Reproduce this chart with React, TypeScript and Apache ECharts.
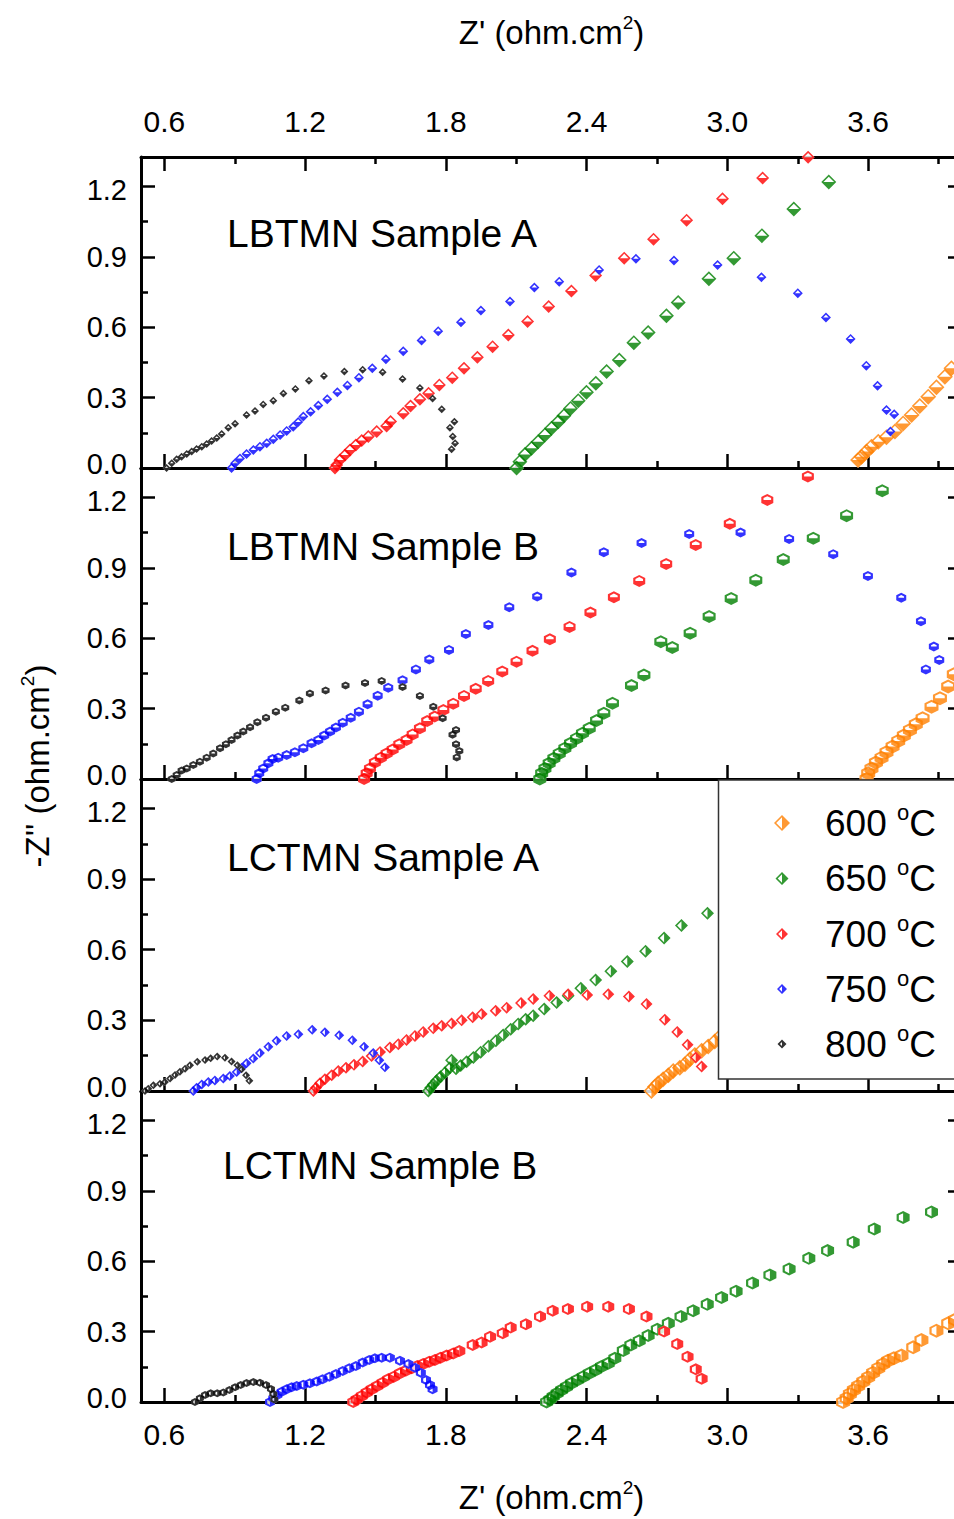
import React, { useEffect, useRef } from 'react';
import * as echarts from 'echarts';

type Pt = [number, number];

// ---------- labels / ticks ----------
const temperatureNames = ['600 °C', '650 °C', '700 °C', '750 °C', '800 °C'];
const temperatureColors = ['#FF8000', '#008000', '#FF0000', '#0000FF', '#000000'];
const panelTitles = ['LBTMN Sample A', 'LBTMN Sample B', 'LCTMN Sample A', 'LCTMN Sample B'];
const xMajorTicks = [0.6, 1.2, 1.8, 2.4, 3.0, 3.6];
const xMinorTicks = [0.9, 1.5, 2.1, 2.7, 3.3, 3.9];
const yMajorTicks = [0, 0.3, 0.6, 0.9, 1.2];
const yMinorTicks = [0.15, 0.45, 0.75, 1.05];

// ---------- LBTMN Sample A ----------
const lbtmnA600: Pt[] = [[3.557,0.034],[3.572,0.048],[3.593,0.070],[3.614,0.091],[3.643,0.112],[3.678,0.131],[3.714,0.155],[3.749,0.190],[3.785,0.226],[3.820,0.264],[3.856,0.304],[3.891,0.344],[3.927,0.389],[3.955,0.425]];
const lbtmnA650: Pt[] = [[2.101,0],[2.115,0.027],[2.137,0.057],[2.165,0.084],[2.193,0.112],[2.222,0.141],[2.250,0.169],[2.279,0.197],[2.303,0.223],[2.331,0.254],[2.364,0.287],[2.399,0.323],[2.439,0.361],[2.485,0.411],[2.539,0.460],[2.601,0.534],[2.662,0.577],[2.740,0.649],[2.790,0.705],[2.921,0.806],[3.027,0.894],[3.147,0.990],[3.283,1.103],[3.432,1.218],[3.600,1.330]];
const lbtmnA700: Pt[] = [[1.327,0],[1.334,0.013],[1.348,0.034],[1.370,0.055],[1.391,0.077],[1.416,0.098],[1.441,0.117],[1.469,0.134],[1.505,0.155],[1.547,0.179],[1.564,0.198],[1.618,0.233],[1.649,0.264],[1.689,0.293],[1.726,0.318],[1.772,0.354],[1.827,0.385],[1.877,0.425],[1.934,0.472],[1.999,0.517],[2.066,0.567],[2.148,0.624],[2.238,0.688],[2.335,0.754],[2.438,0.820],[2.560,0.894],[2.685,0.975],[2.826,1.056],[2.979,1.147],[3.150,1.235],[3.344,1.324]];
const lbtmnA750: Pt[] = [[0.886,0],[0.901,0.020],[0.922,0.041],[0.950,0.060],[0.979,0.077],[1.007,0.091],[1.036,0.105],[1.064,0.122],[1.093,0.141],[1.121,0.158],[1.149,0.176],[1.170,0.196],[1.192,0.219],[1.223,0.240],[1.256,0.266],[1.294,0.293],[1.337,0.323],[1.380,0.352],[1.429,0.385],[1.486,0.425],[1.544,0.463],[1.618,0.497],[1.696,0.543],[1.767,0.583],[1.864,0.621],[1.949,0.671],[2.073,0.709],[2.177,0.769],[2.283,0.794],[2.453,0.844],[2.610,0.891],[2.772,0.884],[2.958,0.865],[3.145,0.813],[3.300,0.745],[3.420,0.641],[3.525,0.550],[3.592,0.436],[3.640,0.350],[3.678,0.247],[3.711,0.229],[3.695,0.155]];
const lbtmnA800: Pt[] = [[0.609,0],[0.631,0.020],[0.652,0.037],[0.673,0.048],[0.695,0.060],[0.716,0.070],[0.737,0.081],[0.759,0.091],[0.780,0.102],[0.801,0.115],[0.823,0.128],[0.844,0.145],[0.872,0.172],[0.901,0.188],[0.950,0.226],[0.986,0.243],[1.021,0.271],[1.064,0.287],[1.107,0.317],[1.158,0.337],[1.216,0.372],[1.280,0.392],[1.367,0.411],[1.445,0.419],[1.530,0.408],[1.615,0.379],[1.689,0.341],[1.743,0.296],[1.782,0.250],[1.836,0.197],[1.817,0.172],[1.829,0.134],[1.839,0.105],[1.824,0.080]];

// ---------- LBTMN Sample B ----------
const lbtmnB600: Pt[] = [[3.593,0],[3.600,0.024],[3.614,0.045],[3.633,0.070],[3.657,0.091],[3.678,0.114],[3.704,0.138],[3.728,0.162],[3.752,0.185],[3.778,0.209],[3.803,0.233],[3.832,0.259],[3.870,0.308],[3.906,0.344],[3.941,0.394],[3.965,0.446]];
const lbtmnB650: Pt[] = [[2.200,0],[2.208,0.024],[2.222,0.045],[2.240,0.067],[2.260,0.088],[2.283,0.109],[2.307,0.131],[2.331,0.152],[2.357,0.173],[2.382,0.195],[2.411,0.216],[2.442,0.249],[2.473,0.280],[2.510,0.323],[2.591,0.398],[2.644,0.443],[2.716,0.585],[2.765,0.560],[2.841,0.621],[2.922,0.692],[3.016,0.769],[3.121,0.847],[3.238,0.935],[3.366,1.026],[3.508,1.122],[3.660,1.228]];
const lbtmnB700: Pt[] = [[1.451,0],[1.462,0.024],[1.476,0.045],[1.497,0.070],[1.522,0.091],[1.547,0.109],[1.573,0.126],[1.601,0.148],[1.632,0.166],[1.658,0.190],[1.689,0.216],[1.720,0.247],[1.752,0.266],[1.789,0.294],[1.831,0.321],[1.877,0.354],[1.927,0.384],[1.980,0.418],[2.040,0.458],[2.101,0.500],[2.169,0.546],[2.243,0.595],[2.327,0.648],[2.416,0.709],[2.516,0.774],[2.624,0.844],[2.739,0.916],[2.865,0.997],[3.010,1.087],[3.170,1.189],[3.343,1.289]];
const lbtmnB750: Pt[] = [[0.993,0],[1.004,0.024],[1.021,0.045],[1.043,0.067],[1.061,0.085],[1.085,0.091],[1.121,0.102],[1.156,0.114],[1.192,0.131],[1.227,0.152],[1.256,0.166],[1.281,0.185],[1.306,0.202],[1.331,0.219],[1.360,0.240],[1.394,0.261],[1.429,0.287],[1.466,0.318],[1.509,0.355],[1.554,0.389],[1.615,0.421],[1.672,0.467],[1.729,0.509],[1.813,0.550],[1.885,0.618],[1.981,0.656],[2.070,0.732],[2.189,0.777],[2.335,0.880],[2.473,0.966],[2.634,1.005],[2.837,1.044],[3.056,1.050],[3.263,1.023],[3.451,0.958],[3.599,0.865],[3.741,0.772],[3.825,0.672],[3.880,0.564],[3.903,0.507],[3.846,0.467]];
const lbtmnB800: Pt[] = [[0.631,0],[0.652,0.017],[0.673,0.036],[0.695,0.045],[0.723,0.060],[0.751,0.074],[0.780,0.091],[0.808,0.109],[0.837,0.131],[0.862,0.148],[0.886,0.166],[0.911,0.185],[0.936,0.202],[0.965,0.220],[0.996,0.242],[1.033,0.261],[1.075,0.287],[1.115,0.304],[1.175,0.334],[1.220,0.364],[1.287,0.377],[1.372,0.398],[1.455,0.409],[1.526,0.418],[1.615,0.392],[1.689,0.354],[1.746,0.308],[1.786,0.259],[1.843,0.209],[1.828,0.188],[1.843,0.148],[1.857,0.119],[1.846,0.092]];

// ---------- LCTMN Sample A ----------
const lctmnA600: Pt[] = [[2.676,0],[2.691,0.018],[2.705,0.033],[2.726,0.050],[2.748,0.067],[2.769,0.085],[2.797,0.099],[2.819,0.114],[2.840,0.135],[2.861,0.153],[2.890,0.171],[2.918,0.189],[2.946,0.210],[2.971,0.234]];
const lctmnA650: Pt[] = [[1.725,0],[1.735,0.014],[1.746,0.028],[1.760,0.043],[1.777,0.060],[1.796,0.078],[1.817,0.099],[1.824,0.131],[1.843,0.095],[1.863,0.108],[1.888,0.124],[1.917,0.142],[1.948,0.165],[1.981,0.190],[2.013,0.213],[2.044,0.238],[2.076,0.262],[2.108,0.285],[2.140,0.305],[2.172,0.320],[2.219,0.348],[2.272,0.376],[2.321,0.404],[2.375,0.436],[2.438,0.471],[2.503,0.509],[2.573,0.550],[2.651,0.594],[2.730,0.650],[2.804,0.703],[2.915,0.755]];
const lctmnA700: Pt[] = [[1.235,0],[1.246,0.014],[1.263,0.033],[1.284,0.050],[1.313,0.067],[1.341,0.085],[1.374,0.099],[1.408,0.111],[1.445,0.125],[1.483,0.149],[1.519,0.166],[1.561,0.185],[1.597,0.199],[1.632,0.217],[1.668,0.234],[1.703,0.251],[1.746,0.266],[1.782,0.277],[1.824,0.287],[1.867,0.300],[1.914,0.313],[1.952,0.327],[2.012,0.341],[2.059,0.354],[2.120,0.374],[2.172,0.391],[2.241,0.405],[2.321,0.411],[2.402,0.408],[2.492,0.411],[2.580,0.401],[2.655,0.369],[2.733,0.303],[2.786,0.251],[2.830,0.196],[2.865,0.142],[2.890,0.104]];
const lctmnA750: Pt[] = [[0.723,0],[0.737,0.014],[0.759,0.028],[0.787,0.038],[0.815,0.045],[0.851,0.053],[0.879,0.064],[0.908,0.081],[0.929,0.099],[0.950,0.118],[0.979,0.138],[1.007,0.161],[1.043,0.188],[1.078,0.213],[1.121,0.234],[1.171,0.241],[1.230,0.260],[1.284,0.249],[1.345,0.237],[1.401,0.216],[1.451,0.188],[1.490,0.161],[1.516,0.131],[1.540,0.101]];
const lctmnA800: Pt[] = [[0.517,0],[0.531,0.010],[0.553,0.024],[0.581,0.031],[0.602,0.038],[0.624,0.053],[0.645,0.068],[0.666,0.082],[0.688,0.095],[0.709,0.109],[0.740,0.124],[0.773,0.132],[0.797,0.139],[0.825,0.146],[0.858,0.141],[0.886,0.125],[0.911,0.109],[0.929,0.092],[0.948,0.067],[0.962,0.043]];

// ---------- LCTMN Sample B ----------
const lctmnB600: Pt[] = [[3.493,0],[3.508,0.016],[3.522,0.034],[3.539,0.051],[3.557,0.068],[3.579,0.087],[3.600,0.105],[3.621,0.125],[3.643,0.144],[3.664,0.162],[3.685,0.176],[3.709,0.186],[3.742,0.198],[3.792,0.233],[3.827,0.264],[3.891,0.304],[3.941,0.335],[3.970,0.350]];
const lctmnB650: Pt[] = [[2.229,0],[2.243,0.011],[2.257,0.023],[2.274,0.037],[2.293,0.051],[2.314,0.065],[2.335,0.080],[2.360,0.094],[2.385,0.108],[2.411,0.122],[2.438,0.136],[2.463,0.151],[2.492,0.165],[2.520,0.186],[2.556,0.219],[2.588,0.243],[2.624,0.261],[2.662,0.283],[2.701,0.310],[2.748,0.335],[2.802,0.364],[2.854,0.389],[2.914,0.416],[2.975,0.445],[3.037,0.472],[3.107,0.507],[3.181,0.541],[3.263,0.567],[3.347,0.612],[3.427,0.645],[3.536,0.681],[3.626,0.737],[3.749,0.786],[3.870,0.810]];
const lctmnB700: Pt[] = [[1.405,0],[1.419,0.011],[1.441,0.026],[1.462,0.040],[1.483,0.054],[1.507,0.068],[1.530,0.082],[1.554,0.097],[1.578,0.108],[1.604,0.122],[1.630,0.134],[1.654,0.144],[1.678,0.153],[1.703,0.162],[1.729,0.172],[1.753,0.179],[1.777,0.189],[1.803,0.198],[1.831,0.207],[1.857,0.217],[1.914,0.243],[1.952,0.254],[1.988,0.278],[2.042,0.293],[2.076,0.317],[2.141,0.331],[2.201,0.364],[2.255,0.389],[2.320,0.396],[2.402,0.406],[2.492,0.406],[2.580,0.396],[2.655,0.364],[2.730,0.300],[2.786,0.247],[2.830,0.193],[2.865,0.139],[2.890,0.099]];
const lctmnB750: Pt[] = [[1.050,0],[1.064,0.016],[1.081,0.030],[1.100,0.044],[1.121,0.054],[1.142,0.063],[1.164,0.068],[1.192,0.074],[1.220,0.080],[1.249,0.087],[1.274,0.097],[1.303,0.108],[1.331,0.119],[1.360,0.132],[1.388,0.144],[1.416,0.153],[1.445,0.168],[1.473,0.179],[1.497,0.186],[1.526,0.189],[1.561,0.189],[1.604,0.176],[1.640,0.162],[1.668,0.146],[1.693,0.125],[1.715,0.094],[1.732,0.072],[1.743,0.054]];
const lctmnB800: Pt[] = [[0.730,0],[0.751,0.016],[0.773,0.030],[0.797,0.037],[0.825,0.037],[0.851,0.041],[0.877,0.051],[0.901,0.063],[0.925,0.072],[0.950,0.081],[0.979,0.085],[1.007,0.082],[1.033,0.072],[1.054,0.055],[1.064,0.034],[1.068,0.011]];

const panelSeriesData: Pt[][][] = [
  [lbtmnA600, lbtmnA650, lbtmnA700, lbtmnA750, lbtmnA800],
  [lbtmnB600, lbtmnB650, lbtmnB700, lbtmnB750, lbtmnB800],
  [lctmnA600, lctmnA650, lctmnA700, lctmnA750, lctmnA800],
  [lctmnB600, lctmnB650, lctmnB700, lctmnB750, lctmnB800],
];

// ---------- styling / layout ----------
const FONT = "'Liberation Sans', Arial, Helvetica, sans-serif";
const GRID_LEFT = 141;
const GRID_WIDTH = 821;
const gridTops = [157, 468, 779, 1091];
const gridHeights = [311, 311, 312, 311];
const X_MIN = 0.5, X_MAX = 4.0, Y_MIN = 0, Y_MAX = 1.325;

const markerSizes = [
  [16, 15, 13, 10, 8],
  [14, 13, 12, 10, 8],
  [16, 13, 12, 10, 8],
  [14, 13, 12, 10, 8],
];
const legendSizes = [16, 13, 12, 10, 9];
const legendRowCenters = [823, 878.5, 934, 989, 1044];
const LEGEND_ICON_X = 782;
const LEGEND_TEXT_X = 825;

const DIAMOND: Pt[] = [[50, 0], [100, 50], [50, 100], [0, 50]];
const HEXAGON: Pt[] = [[50, 0], [100, 25], [100, 75], [50, 100], [0, 75], [0, 25]];
const DIAMOND_BOTTOM: Pt[] = [[0, 50], [100, 50], [50, 100]];
const DIAMOND_RIGHT: Pt[] = [[50, 0], [100, 50], [50, 100]];
const HEX_BOTTOM: Pt[] = [[0, 50], [100, 50], [100, 75], [50, 100], [0, 75]];
const HEX_RIGHT: Pt[] = [[50, 0], [100, 25], [100, 75], [50, 100]];

const panelShapes: { outer: Pt[]; half: Pt[] }[] = [
  { outer: DIAMOND, half: DIAMOND_BOTTOM },
  { outer: HEXAGON, half: HEX_BOTTOM },
  { outer: DIAMOND, half: DIAMOND_RIGHT },
  { outer: HEXAGON, half: HEX_RIGHT },
];

function poly(pts: Pt[]): string {
  return 'M' + pts.map((p) => p[0].toFixed(2) + ' ' + p[1].toFixed(2)).join('L') + 'Z';
}
function markerPath(outer: Pt[], half: Pt[], size: number): string {
  const t = (1.7 / size) * 100;
  const f = Math.max(0.3, 1 - (2.6 * t) / 100);
  const inner: Pt[] = outer.map(([x, y]) => [50 + (x - 50) * f, 50 + (y - 50) * f] as Pt).reverse();
  return 'path://' + poly(outer) + poly(inner) + poly(half);
}

const supRich = (fs: number, lh: number) => ({
  s: { fontSize: fs, fontFamily: FONT, color: '#000', verticalAlign: 'top', lineHeight: lh },
});

function makeX(gridIndex: number, position: 'top' | 'bottom', major: boolean, showTicks: boolean, showLabels: boolean, name: string, nameGap: number) {
  return {
    type: 'value',
    gridIndex,
    position,
    min: X_MIN,
    max: X_MAX,
    axisLine: { show: major, onZero: false, lineStyle: { color: '#000', width: 3 } },
    axisTick: {
      show: showTicks,
      inside: true,
      length: major ? 14 : 7,
      customValues: major ? xMajorTicks : xMinorTicks,
      lineStyle: { color: '#000', width: 2.5 },
    },
    axisLabel: {
      show: showLabels,
      customValues: xMajorTicks,
      formatter: (v: number) => v.toFixed(1),
      fontSize: 30,
      lineHeight: 26,
      fontFamily: FONT,
      color: '#000',
      margin: position === 'top' ? 23 : 19,
    },
    splitLine: { show: false },
    minorTick: { show: false },
    name,
    nameLocation: 'middle',
    nameGap,
    nameTextStyle: { fontSize: 33, fontFamily: FONT, color: '#000', lineHeight: 38, rich: supRich(19, 19) },
  };
}

function yLabelFormatter(v: number): string {
  const s = v.toFixed(1);
  if (v === 0) return `{lo|${s}}`;
  if (Math.abs(v - 1.2) < 1e-9) return `{hi|${s}}`;
  return s;
}

function makeY(gridIndex: number, position: 'left' | 'right', major: boolean, showLabels: boolean) {
  return {
    type: 'value',
    gridIndex,
    position,
    min: Y_MIN,
    max: Y_MAX,
    axisLine: { show: major, onZero: false, lineStyle: { color: '#000', width: 3 } },
    axisTick: {
      show: true,
      inside: true,
      length: major ? 14 : 7,
      customValues: major ? yMajorTicks : yMinorTicks,
      lineStyle: { color: '#000', width: 2.5 },
    },
    axisLabel: {
      show: showLabels,
      customValues: yMajorTicks,
      formatter: yLabelFormatter,
      fontSize: 29,
      lineHeight: 24,
      fontFamily: FONT,
      color: '#000',
      margin: 14,
      rich: {
        lo: { fontSize: 29, fontFamily: FONT, color: '#000', lineHeight: 24, padding: [0, 0, 8, 0] },
        hi: { fontSize: 29, fontFamily: FONT, color: '#000', lineHeight: 24, padding: [8, 0, 0, 0] },
      },
    },
    splitLine: { show: false },
  };
}

function buildOption() {
  const grid: any[] = [];
  for (let i = 0; i < 8; i++) {
    grid.push({
      left: GRID_LEFT,
      top: gridTops[i % 4],
      width: GRID_WIDTH,
      height: gridHeights[i % 4],
      containLabel: false,
      outerBoundsMode: 'none',
      show: false,
    });
  }
  const xTitle = "Z' (ohm.cm{s|2})";
  const xAxis: any[] = [];
  for (let g = 0; g < 4; g++) xAxis.push(makeX(g, 'bottom', true, true, g === 3, g === 3 ? xTitle : '', 76));
  for (let g = 0; g < 4; g++) xAxis.push(makeX(g, 'top', true, g === 0, g === 0, g === 0 ? xTitle : '', 106));
  for (let g = 0; g < 4; g++) xAxis.push(makeX(g + 4, 'bottom', false, true, false, '', 0));
  for (let g = 0; g < 4; g++) xAxis.push(makeX(g + 4, 'top', false, g === 0, false, '', 0));

  const yAxis: any[] = [];
  for (let g = 0; g < 4; g++) yAxis.push(makeY(g, 'left', true, true));
  for (let g = 0; g < 4; g++) yAxis.push(makeY(g, 'right', true, false));
  for (let g = 0; g < 4; g++) yAxis.push(makeY(g + 4, 'left', false, false));
  for (let g = 0; g < 4; g++) yAxis.push(makeY(g + 4, 'right', false, false));

  const series: any[] = [];
  panelSeriesData.forEach((panel, p) => {
    const shape = panelShapes[p];
    panel.forEach((pts, k) => {
      const size = markerSizes[p][k];
      series.push({
        type: 'scatter',
        name: `bg ${panelTitles[p]} ${k}`,
        xAxisIndex: p,
        yAxisIndex: p,
        data: pts,
        symbol: 'path://' + poly(shape.outer),
        symbolSize: size,
        itemStyle: { color: '#ffffff' },
        silent: true,
        emphasis: { disabled: true },
      });
      series.push({
        type: 'scatter',
        name: p === 2 ? temperatureNames[k] : `${panelTitles[p]} ${temperatureNames[k]}`,
        xAxisIndex: p,
        yAxisIndex: p,
        data: pts,
        symbol: markerPath(shape.outer, shape.half, size),
        symbolSize: size,
        itemStyle: { color: temperatureColors[k] },
        emphasis: { disabled: true },
      });
    });
  });

  const legend = temperatureNames.map((name, i) => {
    const sz = legendSizes[i];
    const spacer = LEGEND_TEXT_X - (LEGEND_ICON_X + sz / 2 + 5);
    return {
      data: [name],
      orient: 'horizontal',
      left: LEGEND_ICON_X - sz / 2,
      top: legendRowCenters[i] - 22,
      itemWidth: sz,
      itemHeight: sz,
      itemGap: 0,
      padding: 0,
      selectedMode: false,
      z: 120,
      formatter: (n: string) => `{p|}{n|${n.split(' ')[0]} }{s|o}{n|C}`,
      textStyle: {
        fontSize: 37,
        fontFamily: FONT,
        color: '#000',
        lineHeight: 44,
        rich: {
          p: { width: spacer, lineHeight: 44 },
          n: { fontSize: 37, fontFamily: FONT, color: '#000', lineHeight: 44 },
          s: { fontSize: 22, fontFamily: FONT, color: '#000', verticalAlign: 'top', lineHeight: 16 },
        },
      },
    };
  });

  const titleX = [227, 227, 227, 223];
  const titleY = [233, 546, 857, 1165];

  const graphic: any[] = [
    ...panelTitles.map((t, i) => ({
      type: 'text',
      x: titleX[i],
      y: titleY[i],
      z: 50,
      style: { text: t, fill: '#000', fontSize: 39, fontFamily: FONT, align: 'left', verticalAlign: 'middle' },
    })),
    {
      type: 'text',
      x: 37,
      y: 766,
      rotation: Math.PI / 2,
      z: 50,
      style: {
        text: "-Z'' (ohm.cm{s|2})",
        fill: '#000',
        fontSize: 33,
        fontFamily: FONT,
        lineHeight: 38,
        align: 'center',
        verticalAlign: 'middle',
        rich: supRich(19, 19),
      },
    },
    {
      type: 'rect',
      z: 100,
      shape: { x: 718.5, y: 780, width: 260, height: 299 },
      style: { fill: '#ffffff', stroke: '#333333', lineWidth: 1.5 },
    },
  ];

  return {
    animation: false,
    backgroundColor: '#ffffff',
    grid,
    xAxis,
    yAxis,
    series,
    legend,
    graphic,
  };
}

export default function App() {
  const ref = useRef<HTMLDivElement>(null);
  useEffect(() => {
    if (!ref.current) return;
    const chart = echarts.init(ref.current, undefined, { renderer: 'svg' });
    chart.setOption(buildOption() as any);
    return () => chart.dispose();
  }, []);
  return (
    <div
      ref={ref}
      style={{ position: 'absolute', left: 0, top: 0, width: 954, height: 1519, overflow: 'hidden' }}
    />
  );
}
